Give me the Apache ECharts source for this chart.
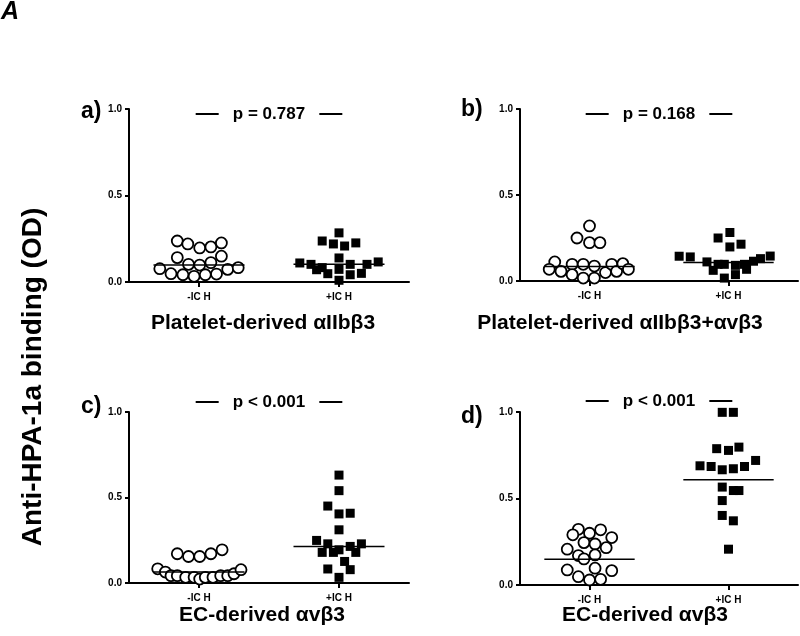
<!DOCTYPE html>
<html><head><meta charset="utf-8">
<script src="https://cdn.jsdelivr.net/npm/echarts@6/dist/echarts.min.js"></script>
<style>html,body{margin:0;padding:0;background:#fff}#c{width:800px;height:636px}</style>
</head><body><div id="c"></div>
<script>
// Group labels
var groupLabels = ['-IC H', '+IC H'];
var yTicks = [0, 0.5, 1.0];
var panelLetters = ['a)', 'b)', 'c)', 'd)'];
var pValues = ['p = 0.787', 'p = 0.168', 'p < 0.001', 'p < 0.001'];
var panelTitles = ['Platelet-derived \u03b1IIb\u03b23', 'Platelet-derived \u03b1IIb\u03b23+\u03b1v\u03b23', 'EC-derived \u03b1v\u03b23', 'EC-derived \u03b1v\u03b23'];

// Each point: [horizontal jitter offset from group centre, OD value]
var aNeg = [[-0.31,0.237],[-0.16,0.220],[0.01,0.197],[0.17,0.203],[0.32,0.226],[-0.31,0.141],[-0.15,0.102],[0.01,0.098],[0.17,0.112],[0.32,0.149],[-0.56,0.077],[-0.40,0.048],[-0.23,0.042],[-0.07,0.033],[0.09,0.042],[0.25,0.046],[0.41,0.073],[0.56,0.083]];
var aPos = [[0,0.284],[-0.24,0.237],[-0.08,0.220],[0.08,0.208],[0.24,0.226],[0,0.139],[-0.56,0.110],[-0.40,0.102],[-0.24,0.083],[-0.32,0.071],[-0.16,0.048],[0,0.073],[0.16,0.102],[0.40,0.102],[0.16,0.042],[0.32,0.050],[0,0.010],[0.56,0.116]];
var bNeg = [[0,0.320],[-0.18,0.250],[0,0.223],[0.15,0.223],[-0.50,0.111],[-0.58,0.068],[-0.41,0.056],[-0.25,0.097],[-0.09,0.097],[0.07,0.087],[-0.25,0.037],[-0.09,0.017],[0.07,0.017],[0.23,0.049],[0.32,0.097],[0.39,0.056],[0.48,0.101],[0.56,0.068]];
var bPos = [[-0.71,0.144],[-0.55,0.140],[-0.31,0.111],[-0.22,0.062],[-0.15,0.250],[-0.15,0.097],[-0.06,0.097],[-0.06,0.017],[0.02,0.282],[0.02,0.198],[0.10,0.091],[0.10,0.037],[0.18,0.214],[0.23,0.097],[0.26,0.068],[0.36,0.115],[0.46,0.130],[0.60,0.145]];
var cNeg = [[-0.31,0.171],[-0.15,0.155],[0.01,0.155],[0.17,0.171],[0.33,0.194],[-0.59,0.083],[-0.48,0.064],[-0.40,0.043],[-0.31,0.043],[-0.19,0.033],[-0.07,0.033],[0.01,0.023],[0.09,0.033],[0.20,0.033],[0.31,0.043],[0.41,0.043],[0.50,0.054],[0.60,0.078]];
var cPos = [[0,0.631],[0,0.540],[-0.16,0.450],[0,0.404],[0.16,0.408],[0,0.311],[-0.32,0.249],[-0.16,0.229],[0.32,0.229],[0.16,0.214],[-0.24,0.179],[-0.08,0.179],[0,0.194],[0.24,0.179],[0.08,0.126],[-0.16,0.082],[0.16,0.078],[0,0.033]];
var dNeg = [[-0.16,0.322],[0.16,0.319],[-0.24,0.290],[0,0.299],[0.32,0.274],[-0.08,0.245],[0.08,0.237],[-0.32,0.207],[0.24,0.216],[-0.16,0.170],[-0.08,0.151],[0.08,0.174],[-0.32,0.087],[0.08,0.097],[0.32,0.083],[-0.16,0.048],[0,0.029],[0.16,0.033]];
var dPos = [[-0.09,0.998],[0.07,0.998],[-0.17,0.788],[0,0.778],[0.15,0.797],[0.39,0.720],[-0.41,0.689],[-0.25,0.685],[-0.09,0.666],[0.07,0.672],[0.23,0.685],[-0.09,0.566],[0.07,0.546],[0.15,0.546],[-0.09,0.488],[-0.09,0.402],[0.07,0.371],[0,0.207]];
// medians [neg, pos]
var medians = [[0.098,0.102],[0.085,0.107],[0.064,0.214],[0.149,0.608]];

var negSets = [aNeg, bNeg, cNeg, dNeg];
var posSets = [aPos, bPos, cPos, dPos];
var centres = [1, 3];
var halfW = 0.65;

var grids = [
  {left:129, top:109, width:280, height:173},
  {left:520, top:109, width:278, height:172},
  {left:129, top:412, width:280, height:171},
  {left:520, top:412, width:278, height:173}
];
var FONT = '"Liberation Sans", Arial, sans-serif';

var xAxes = [], yAxes = [], series = [];
grids.forEach(function(g, i){
  xAxes.push({
    gridIndex:i, type:'value', min:0, max:4, interval:1,
    axisLine:{show:true, lineStyle:{color:'#000', width:2}},
    axisTick:{show:true, customValues:centres, length:5, lineStyle:{color:'#000', width:2}},
    axisLabel:{customValues:centres, formatter:function(v){return v===1?groupLabels[0]:groupLabels[1];},
      color:'#000', fontFamily:FONT, fontWeight:'bold', fontSize:10, margin:10},
    splitLine:{show:false}
  });
  yAxes.push({
    gridIndex:i, type:'value', min:0, max:1, interval:0.5,
    axisLine:{show:true, lineStyle:{color:'#000', width:2}},
    axisTick:{show:true, length:4, lineStyle:{color:'#000', width:2}},
    axisLabel:{formatter:function(v){return v.toFixed(1);}, color:'#000', fontFamily:FONT, fontWeight:'bold', fontSize:10, margin:7},
    splitLine:{show:false}
  });
  series.push({
    type:'scatter', xAxisIndex:i, yAxisIndex:i, symbol:'circle', symbolSize:11,
    itemStyle:{color:'#fff', borderColor:'#000', borderWidth:1.8, opacity:1},
    data: negSets[i].map(function(p){return [centres[0]+p[0], p[1]];}), z:3
  });
  series.push({
    type:'scatter', xAxisIndex:i, yAxisIndex:i, symbol:'rect', symbolSize:9,
    itemStyle:{color:'#000', opacity:1},
    data: posSets[i].map(function(p){return [centres[1]+p[0], p[1]];}), z:3
  });
  [0,1].forEach(function(k){
    series.push({
      type:'line', xAxisIndex:i, yAxisIndex:i, symbol:'none', silent:true,
      lineStyle:{color:'#000', width:1.5},
      data:[[centres[k]-halfW, medians[i][k]],[centres[k]+halfW, medians[i][k]]], z:4
    });
  });
});

var pPos = [[269,114],[659,114],[269,402],[659,401]];
var letterPos = [[81,112],[461,110],[81,407],[461,417]];
var titlePos = [[263,323],[620,323],[262,615],[645,615]];
var graphic = [];
pValues.forEach(function(t,i){
  graphic.push({type:'text', x:pPos[i][0], y:pPos[i][1], style:{
    text:'{d|}   ' + t + '   {d|}', align:'center', verticalAlign:'middle',
    fill:'#000', font:'bold 17px ' + FONT,
    rich:{d:{width:23, height:2, backgroundColor:'#000'}}
  }});
  graphic.push({type:'text', x:letterPos[i][0], y:letterPos[i][1], style:{
    text:panelLetters[i], align:'left', verticalAlign:'middle', fill:'#000', font:'bold 23px ' + FONT
  }});
  graphic.push({type:'text', x:titlePos[i][0], y:titlePos[i][1], style:{
    text:panelTitles[i], align:'center', verticalAlign:'middle', fill:'#000', font:'bold 21px ' + FONT
  }});
});
graphic.push({type:'text', x:33, y:377, rotation:Math.PI/2, style:{
  text:'Anti-HPA-1a binding (OD)', align:'center', verticalAlign:'middle', fill:'#000', font:'bold 28px ' + FONT
}});
graphic.push({type:'text', x:1, y:12, style:{
  text:'A', align:'left', verticalAlign:'middle', fill:'#000', font:'italic bold 25px ' + FONT
}});

var chart = echarts.init(document.getElementById('c'), null, {renderer:'canvas'});
chart.setOption({
  animation:false,
  backgroundColor:'#fff',
  grid:grids, xAxis:xAxes, yAxis:yAxes, series:series, graphic:graphic
});
</script>
</body></html>
